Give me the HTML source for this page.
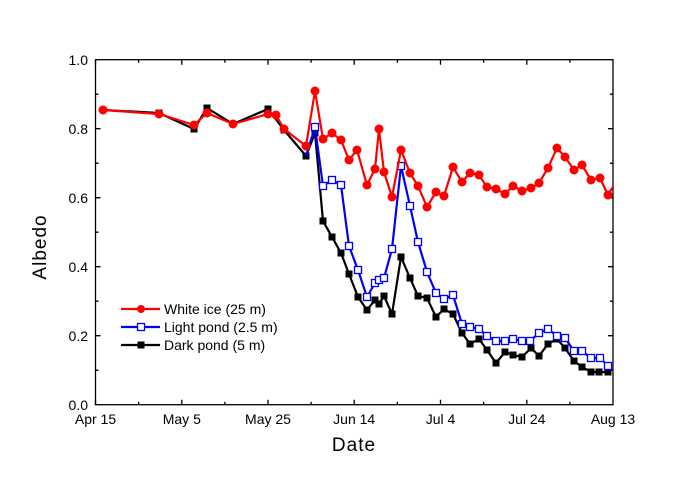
<!DOCTYPE html>
<html><head><meta charset="utf-8"><style>
html,body{margin:0;padding:0;background:#fff;}
svg{display:block;font-family:"Liberation Sans",Arial,sans-serif;}
</style></head><body>
<svg width="679" height="494" viewBox="0 0 679 494" xmlns="http://www.w3.org/2000/svg">
<rect width="679" height="494" fill="#fff"/>
<g stroke="#000" stroke-width="1.3" fill="none">
<rect x="95.5" y="59.7" width="517.5" height="345"/>
<path id="tk" d="
M95.5 404.7v-5 M138.6 404.7v-3 M181.8 404.7v-5 M224.9 404.7v-3 M268 404.7v-5 M311.1 404.7v-3 M354.2 404.7v-5 M397.4 404.7v-3 M440.5 404.7v-5 M483.6 404.7v-3 M526.8 404.7v-5 M569.9 404.7v-3
M95.5 59.7v5 M138.6 59.7v3 M181.8 59.7v5 M224.9 59.7v3 M268 59.7v5 M311.1 59.7v3 M354.2 59.7v5 M397.4 59.7v3 M440.5 59.7v5 M483.6 59.7v3 M526.8 59.7v5 M569.9 59.7v3
M95.5 370.2h3 M95.5 335.7h5 M95.5 301.2h3 M95.5 266.7h5 M95.5 232.2h3 M95.5 197.7h5 M95.5 163.2h3 M95.5 128.7h5 M95.5 94.2h3
M613 370.2h-3 M613 335.7h-5 M613 301.2h-3 M613 266.7h-5 M613 232.2h-3 M613 197.7h-5 M613 163.2h-3 M613 128.7h-5 M613 94.2h-3"/>
</g>
<g font-size="14" fill="#000" text-anchor="end">
<text x="88" y="410">0.0</text><text x="88" y="341">0.2</text><text x="88" y="272">0.4</text>
<text x="88" y="203">0.6</text><text x="88" y="134">0.8</text><text x="88" y="65">1.0</text>
</g>
<g font-size="14" fill="#000" text-anchor="middle">
<text x="95.5" y="424">Apr 15</text><text x="181.8" y="424">May 5</text><text x="268" y="424">May 25</text>
<text x="354.2" y="424">Jun 14</text><text x="440.5" y="424">Jul 4</text><text x="526.8" y="424">Jul 24</text><text x="613" y="424">Aug 13</text>
</g>
<text x="354" y="451" font-size="19" text-anchor="middle" letter-spacing="1">Date</text>
<text transform="translate(46,247) rotate(-90)" font-size="19" text-anchor="middle" letter-spacing="1">Albedo</text>
<defs><clipPath id="c"><rect x="95.5" y="59.7" width="517.5" height="345"/></clipPath></defs>
<g clip-path="url(#c)">
<polyline fill="none" stroke="#000" stroke-width="2.2" points="103,110 159,113 194,129 207,108 233,124 268,109 284,130 306,156 315,133 323,221 332,237 341,253 349,274 358,297 367,310 375,300 379,304 384,296 392,314 401,257 410,278 418,296 427,298 436,317 444,309 453,314 462,333 470,344 479,339 487,350 496,363 505,352 513,355 522,357 531,348 539,356 548,344 557,339 565,348 574,361 582,367 591,372 599,372 608,372"/>
<g fill="#000">
<rect x="155.5" y="109.5" width="7" height="7"/><rect x="190.5" y="125.5" width="7" height="7"/><rect x="203.5" y="104.5" width="7" height="7"/><rect x="264.5" y="105.5" width="7" height="7"/><rect x="280.5" y="126.5" width="7" height="7"/><rect x="302.5" y="152.5" width="7" height="7"/><rect x="311.5" y="129.5" width="7" height="7"/><rect x="319.5" y="217.5" width="7" height="7"/><rect x="328.5" y="233.5" width="7" height="7"/><rect x="337.5" y="249.5" width="7" height="7"/><rect x="345.5" y="270.5" width="7" height="7"/><rect x="354.5" y="293.5" width="7" height="7"/><rect x="363.5" y="306.5" width="7" height="7"/><rect x="371.5" y="296.5" width="7" height="7"/><rect x="375.5" y="300.5" width="7" height="7"/><rect x="380.5" y="292.5" width="7" height="7"/><rect x="388.5" y="310.5" width="7" height="7"/><rect x="397.5" y="253.5" width="7" height="7"/><rect x="406.5" y="274.5" width="7" height="7"/><rect x="414.5" y="292.5" width="7" height="7"/><rect x="423.5" y="294.5" width="7" height="7"/><rect x="432.5" y="313.5" width="7" height="7"/><rect x="440.5" y="305.5" width="7" height="7"/><rect x="449.5" y="310.5" width="7" height="7"/><rect x="458.5" y="329.5" width="7" height="7"/><rect x="466.5" y="340.5" width="7" height="7"/><rect x="475.5" y="335.5" width="7" height="7"/><rect x="483.5" y="346.5" width="7" height="7"/><rect x="492.5" y="359.5" width="7" height="7"/><rect x="501.5" y="348.5" width="7" height="7"/><rect x="509.5" y="351.5" width="7" height="7"/><rect x="518.5" y="353.5" width="7" height="7"/><rect x="527.5" y="344.5" width="7" height="7"/><rect x="535.5" y="352.5" width="7" height="7"/><rect x="544.5" y="340.5" width="7" height="7"/><rect x="553.5" y="335.5" width="7" height="7"/><rect x="561.5" y="344.5" width="7" height="7"/><rect x="570.5" y="357.5" width="7" height="7"/><rect x="578.5" y="363.5" width="7" height="7"/><rect x="587.5" y="368.5" width="7" height="7"/><rect x="595.5" y="368.5" width="7" height="7"/><rect x="604.5" y="368.5" width="7" height="7"/>
</g>
<polyline fill="none" stroke="#0000ff" stroke-width="2.2" points="306,156 315,127 323,186 332,180 341,185 349,246 358,270 367,297 375,283 379,280 384,278 392,249 401,166 410,206 418,242 427,272 436,293 444,299 453,295 462,324 470,327 479,329 487,336 496,341 505,341 513,339 522,341 530,341 539,333 548,329 557,336 565,338 574,351 582,351 591,358 600,358 608,366"/>
<g fill="#fff" stroke="#0000ff" stroke-width="1.3">
<rect x="311.5" y="123.5" width="7" height="7"/><rect x="319.5" y="182.5" width="7" height="7"/><rect x="328.5" y="176.5" width="7" height="7"/><rect x="337.5" y="181.5" width="7" height="7"/><rect x="345.5" y="242.5" width="7" height="7"/><rect x="354.5" y="266.5" width="7" height="7"/><rect x="363.5" y="293.5" width="7" height="7"/><rect x="371.5" y="279.5" width="7" height="7"/><rect x="375.5" y="276.5" width="7" height="7"/><rect x="380.5" y="274.5" width="7" height="7"/><rect x="388.5" y="245.5" width="7" height="7"/><rect x="397.5" y="162.5" width="7" height="7"/><rect x="406.5" y="202.5" width="7" height="7"/><rect x="414.5" y="238.5" width="7" height="7"/><rect x="423.5" y="268.5" width="7" height="7"/><rect x="432.5" y="289.5" width="7" height="7"/><rect x="440.5" y="295.5" width="7" height="7"/><rect x="449.5" y="291.5" width="7" height="7"/><rect x="458.5" y="320.5" width="7" height="7"/><rect x="466.5" y="323.5" width="7" height="7"/><rect x="475.5" y="325.5" width="7" height="7"/><rect x="483.5" y="332.5" width="7" height="7"/><rect x="492.5" y="337.5" width="7" height="7"/><rect x="501.5" y="337.5" width="7" height="7"/><rect x="509.5" y="335.5" width="7" height="7"/><rect x="518.5" y="337.5" width="7" height="7"/><rect x="526.5" y="337.5" width="7" height="7"/><rect x="535.5" y="329.5" width="7" height="7"/><rect x="544.5" y="325.5" width="7" height="7"/><rect x="553.5" y="332.5" width="7" height="7"/><rect x="561.5" y="334.5" width="7" height="7"/><rect x="570.5" y="347.5" width="7" height="7"/><rect x="578.5" y="347.5" width="7" height="7"/><rect x="587.5" y="354.5" width="7" height="7"/><rect x="596.5" y="354.5" width="7" height="7"/><rect x="604.5" y="362.5" width="7" height="7"/>
</g>
<polyline fill="none" stroke="#ff0000" stroke-width="2.2" points="103,110 159,114 194,125 207,113 233,124 268,114 276,115 284,129 306,146 315,91 323,139 332,133 341,140 349,160 357,150 367,185 375,169 379,129 384,172 392,197 401,150 410,173 418,186 427,207 436,192 444,196 453,167 462,182 470,173 479,175 487,187 496,189 505,194 513,186 522,191 531,188 539,183 548,168 557,148 565,157 574,170 582,165 591,180 600,178 608,195 617,180"/>
<g fill="#ff0000">
<circle cx="103" cy="110" r="4.5"/><circle cx="159" cy="114" r="4.5"/><circle cx="194" cy="125" r="4.5"/><circle cx="207" cy="113" r="4.5"/><circle cx="233" cy="124" r="4.5"/><circle cx="268" cy="114" r="4.5"/><circle cx="276" cy="115" r="4.5"/><circle cx="284" cy="129" r="4.5"/><circle cx="306" cy="146" r="4.5"/><circle cx="315" cy="91" r="4.5"/><circle cx="323" cy="139" r="4.5"/><circle cx="332" cy="133" r="4.5"/><circle cx="341" cy="140" r="4.5"/><circle cx="349" cy="160" r="4.5"/><circle cx="357" cy="150" r="4.5"/><circle cx="367" cy="185" r="4.5"/><circle cx="375" cy="169" r="4.5"/><circle cx="379" cy="129" r="4.5"/><circle cx="384" cy="172" r="4.5"/><circle cx="392" cy="197" r="4.5"/><circle cx="401" cy="150" r="4.5"/><circle cx="410" cy="173" r="4.5"/><circle cx="418" cy="186" r="4.5"/><circle cx="427" cy="207" r="4.5"/><circle cx="436" cy="192" r="4.5"/><circle cx="444" cy="196" r="4.5"/><circle cx="453" cy="167" r="4.5"/><circle cx="462" cy="182" r="4.5"/><circle cx="470" cy="173" r="4.5"/><circle cx="479" cy="175" r="4.5"/><circle cx="487" cy="187" r="4.5"/><circle cx="496" cy="189" r="4.5"/><circle cx="505" cy="194" r="4.5"/><circle cx="513" cy="186" r="4.5"/><circle cx="522" cy="191" r="4.5"/><circle cx="531" cy="188" r="4.5"/><circle cx="539" cy="183" r="4.5"/><circle cx="548" cy="168" r="4.5"/><circle cx="557" cy="148" r="4.5"/><circle cx="565" cy="157" r="4.5"/><circle cx="574" cy="170" r="4.5"/><circle cx="582" cy="165" r="4.5"/><circle cx="591" cy="180" r="4.5"/><circle cx="600" cy="178" r="4.5"/><circle cx="608" cy="195" r="4.5"/>
</g>
</g>
<g stroke-width="2.2">
<line x1="121" y1="309" x2="160" y2="309" stroke="#ff0000"/><circle cx="141" cy="309" r="4" fill="#ff0000"/>
<line x1="121" y1="327" x2="160" y2="327" stroke="#0000ff"/><rect x="137.5" y="323.5" width="7" height="7" fill="#fff" stroke="#0000ff" stroke-width="1.3"/>
<line x1="121" y1="345" x2="160" y2="345" stroke="#000"/><rect x="137.5" y="341.5" width="7" height="7" fill="#000" stroke="none"/>
</g>
<g font-size="14" fill="#000">
<text x="164" y="314">White ice (25 m)</text>
<text x="164" y="332">Light pond (2.5 m)</text>
<text x="164" y="350">Dark pond (5 m)</text>
</g>
</svg>
</body></html>
